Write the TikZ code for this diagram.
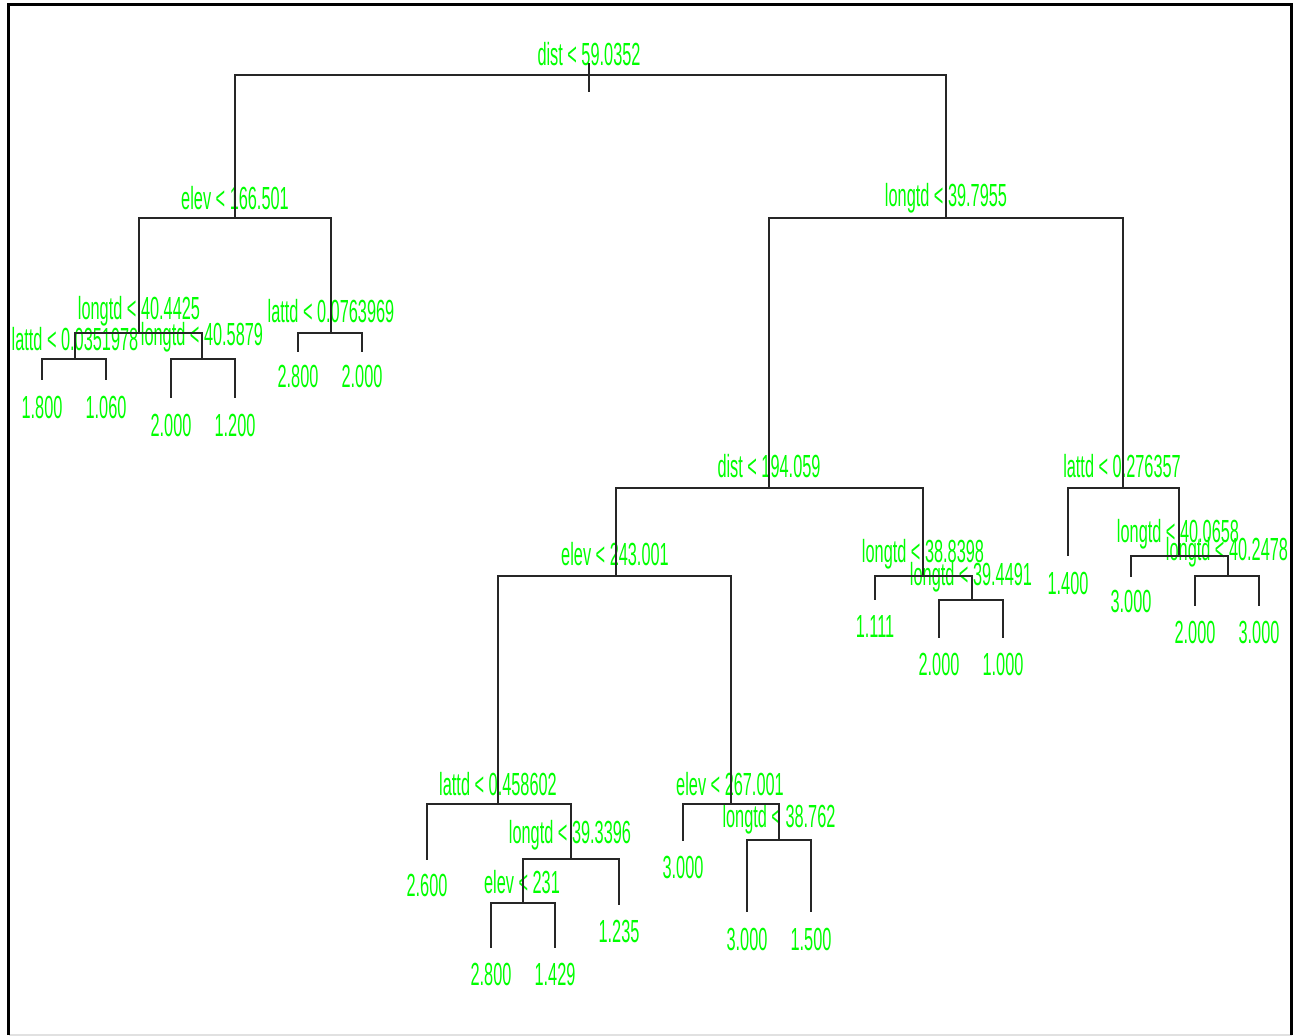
\documentclass[tikz,border=0pt]{standalone}
\usepackage{fontspec}
\newfontfamily\treefont[FakeStretch=0.51]{Liberation Sans}
\definecolor{lblgreen}{RGB}{0,255,0}
\definecolor{framegrey}{RGB}{225,225,225}
\begin{document}
\begin{tikzpicture}[x=1pt,y=-1pt,
  lbl/.style={anchor=base,inner sep=0pt,outer sep=0pt,text=lblgreen,font=\treefont\fontsize{32}{32}\selectfont},
  edge/.style={line width=1.3pt,draw=black!85},
  frame/.style={line width=3pt,draw=black}]
\useasboundingbox (0,0) rectangle (1293,1036);
\fill[white] (0,0) rectangle (1293,1036);
% frame
\draw[framegrey,line width=1.5pt] (8.5,1035) -- (1291.5,1035);
\draw[frame] (8.5,1035) -- (8.5,4.5) -- (1291.5,4.5) -- (1291.5,1035);
% split points
\coordinate (n1) at (589,75);
\coordinate (n1a) at (589,63);
\coordinate (n1b) at (589,92);
\coordinate (n2) at (235,218);
\coordinate (n3) at (139,333);
\coordinate (n4) at (75,359);
\coordinate (n5) at (202,359);
\coordinate (n6) at (331,333);
\coordinate (n7) at (946,218);
\coordinate (n8) at (769,488);
\coordinate (n9) at (616,576);
\coordinate (n10) at (498,804);
\coordinate (n11) at (571,859);
\coordinate (n12) at (523,903);
\coordinate (n13) at (731,804);
\coordinate (n14) at (779,840);
\coordinate (n15) at (923,576);
\coordinate (n16) at (972,600);
\coordinate (n17) at (1123,488);
\coordinate (n18) at (1179,556);
\coordinate (n19) at (1228,576);
% leaf ends
\coordinate (l1) at (42,380);
\coordinate (l2) at (106,380);
\coordinate (l3) at (171,398);
\coordinate (l4) at (235,398);
\coordinate (l5) at (298,352);
\coordinate (l6) at (362,352);
\coordinate (l7) at (427,860);
\coordinate (l8) at (491,948);
\coordinate (l9) at (555,948);
\coordinate (l10) at (619,905);
\coordinate (l11) at (683,841);
\coordinate (l12) at (747,912);
\coordinate (l13) at (811,912);
\coordinate (l14) at (875,600);
\coordinate (l15) at (939,638);
\coordinate (l16) at (1003,638);
\coordinate (l17) at (1068,556);
\coordinate (l18) at (1131,577);
\coordinate (l19) at (1195,606);
\coordinate (l20) at (1259,606);
% split labels
\node[lbl] (t1) at (589,65) {dist < 59.0352};
\node[lbl] (t2) at (235,209) {elev < 166.501};
\node[lbl] (t3) at (139,319) {longtd < 40.4425};
\node[lbl] (t4) at (75,350) {lattd < 0.0351978};
\node[lbl] (t5) at (202,345) {longtd < 40.5879};
\node[lbl] (t6) at (331,322) {lattd < 0.0763969};
\node[lbl] (t7) at (946,206) {longtd < 39.7955};
\node[lbl] (t8) at (769,477) {dist < 194.059};
\node[lbl] (t9) at (615,565) {elev < 243.001};
\node[lbl] (t10) at (498,795) {lattd < 0.458602};
\node[lbl] (t11) at (570,843) {longtd < 39.3396};
\node[lbl] (t12) at (522,893) {elev < 231};
\node[lbl] (t13) at (730,795) {elev < 267.001};
\node[lbl] (t14) at (779,827) {longtd < 38.762};
\node[lbl] (t15) at (923,562) {longtd < 38.8398};
\node[lbl] (t16) at (971,585) {longtd < 39.4491};
\node[lbl] (t17) at (1122,477) {lattd < 0.276357};
\node[lbl] (t18) at (1178,542) {longtd < 40.0658};
\node[lbl] (t19) at (1227,560) {longtd < 40.2478};
% leaf labels
\node[lbl] (v1) at (42,418) {1.800};
\node[lbl] (v2) at (106,418) {1.060};
\node[lbl] (v3) at (171,436) {2.000};
\node[lbl] (v4) at (235,436) {1.200};
\node[lbl] (v5) at (298,387) {2.800};
\node[lbl] (v6) at (362,387) {2.000};
\node[lbl] (v7) at (427,896) {2.600};
\node[lbl] (v8) at (491,985) {2.800};
\node[lbl] (v9) at (555,985) {1.429};
\node[lbl] (v10) at (619,942) {1.235};
\node[lbl] (v11) at (683,878) {3.000};
\node[lbl] (v12) at (747,950) {3.000};
\node[lbl] (v13) at (811,950) {1.500};
\node[lbl] (v14) at (875,637) {1.111};
\node[lbl] (v15) at (939,675) {2.000};
\node[lbl] (v16) at (1003,675) {1.000};
\node[lbl] (v17) at (1068,594) {1.400};
\node[lbl] (v18) at (1131,612) {3.000};
\node[lbl] (v19) at (1195,643) {2.000};
\node[lbl] (v20) at (1259,643) {3.000};
% edges
\draw[edge] (n1a) -- (n1b);
\draw[edge] (n1) -| (n2);  \draw[edge] (n1) -| (n7);
\draw[edge] (n2) -| (n3);  \draw[edge] (n2) -| (n6);
\draw[edge] (n3) -| (n4);  \draw[edge] (n3) -| (n5);
\draw[edge] (n4) -| (l1);  \draw[edge] (n4) -| (l2);
\draw[edge] (n5) -| (l3);  \draw[edge] (n5) -| (l4);
\draw[edge] (n6) -| (l5);  \draw[edge] (n6) -| (l6);
\draw[edge] (n7) -| (n8);  \draw[edge] (n7) -| (n17);
\draw[edge] (n8) -| (n9);  \draw[edge] (n8) -| (n15);
\draw[edge] (n9) -| (n10); \draw[edge] (n9) -| (n13);
\draw[edge] (n10) -| (l7); \draw[edge] (n10) -| (n11);
\draw[edge] (n11) -| (n12); \draw[edge] (n11) -| (l10);
\draw[edge] (n12) -| (l8); \draw[edge] (n12) -| (l9);
\draw[edge] (n13) -| (l11); \draw[edge] (n13) -| (n14);
\draw[edge] (n14) -| (l12); \draw[edge] (n14) -| (l13);
\draw[edge] (n15) -| (l14); \draw[edge] (n15) -| (n16);
\draw[edge] (n16) -| (l15); \draw[edge] (n16) -| (l16);
\draw[edge] (n17) -| (l17); \draw[edge] (n17) -| (n18);
\draw[edge] (n18) -| (l18); \draw[edge] (n18) -| (n19);
\draw[edge] (n19) -| (l19); \draw[edge] (n19) -| (l20);
\end{tikzpicture}
\end{document}
